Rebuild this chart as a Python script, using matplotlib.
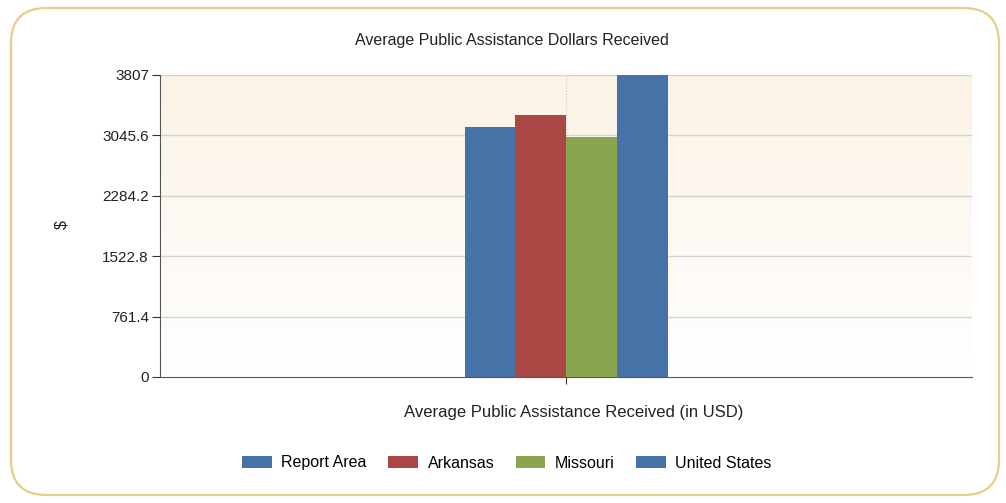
import matplotlib.pyplot as plt
import numpy as np
from matplotlib.patches import FancyBboxPatch

plt.rcParams['font.family'] = ['Liberation Sans', 'DejaVu Sans']

series = ['Report Area', 'Arkansas', 'Missouri', 'United States']
values = [3150, 3300, 3025, 3807]
colors = ['#4572A7', '#AA4643', '#89A54E', '#4572A7']
yticks = [0, 761.4, 1522.8, 2284.2, 3045.6, 3807]
ytick_labels = ['0', '761.4', '1522.8', '2284.2', '3045.6', '3807']

fig = plt.figure(figsize=(10.06, 5.03), dpi=100)
fig.patch.set_facecolor('white')

# rounded frame around the whole chart
frame = FancyBboxPatch((11 / 1006, 8 / 503), 988 / 1006, 487 / 503,
                       boxstyle='round,pad=0,rounding_size=0.035',
                       transform=fig.transFigure, facecolor='white',
                       edgecolor='#E9CD86', linewidth=1.6, mutation_aspect=2,
                       zorder=-5)
fig.patches.append(frame)

ax = fig.add_axes([160 / 1006, 1 - 377 / 503, 812 / 1006, 302 / 503])
ax.set_facecolor('none')

# background gradient: cream at top, white at bottom
t = np.linspace(0, 1, 256)[:, None]
top = np.array([252, 243, 230]) / 255
bot = np.array([255, 255, 255]) / 255
img = bot[None, None, :] + (top - bot)[None, None, :] * t[:, :, None]
ax.imshow(img, extent=[-1, 1, 0, 3807], origin='lower', aspect='auto', zorder=0)

w = 0.125
for i, (name, v, c) in enumerate(zip(series, values, colors)):
    ax.bar((i - 1.5) * w, v, width=w, color=c, label=name, zorder=3)

ax.set_xlim(-1, 1)
ax.set_ylim(0, 3807)
ax.set_yticks(yticks)
ax.set_yticklabels(ytick_labels)
ax.set_xticks([0])
ax.set_xticklabels([''])
for y in yticks[1:]:
    ax.axhline(y, color='#D3D3D3', linewidth=1, zorder=1)
ax.axvline(0, color='#C8C8C8', linewidth=0.8, linestyle=':', zorder=1)
ax.axvline(1, color='#C8C8C8', linewidth=0.8, linestyle=':', zorder=1)

for s in ['top', 'right']:
    ax.spines[s].set_visible(False)
for s in ['left', 'bottom']:
    ax.spines[s].set_color('#555555')
ax.tick_params(axis='y', length=6, color='#333333', labelsize=11, labelcolor='#222222', pad=2)
ax.tick_params(axis='x', length=5, color='#333333')

fig.text(512 / 1006, 1 - 40 / 503, 'Average Public Assistance Dollars Received',
         ha='center', va='center', fontsize=11.5, color='#222222')
fig.text(574 / 1006, 1 - 413 / 503, 'Average Public Assistance Received (in USD)',
         ha='center', va='center', fontsize=12, color='#222222')
fig.text(62 / 1006, 1 - 225 / 503, '$', rotation=90, ha='center', va='center',
         fontsize=11.5, color='#222222')

fig.legend(loc='center', bbox_to_anchor=(507 / 1006, 1 - 463 / 503), ncol=4,
           frameon=False, fontsize=11.5, handlelength=1.85, handleheight=0.8,
           columnspacing=1.35, handletextpad=0.6)

fig.savefig('out.png', dpi=100)
